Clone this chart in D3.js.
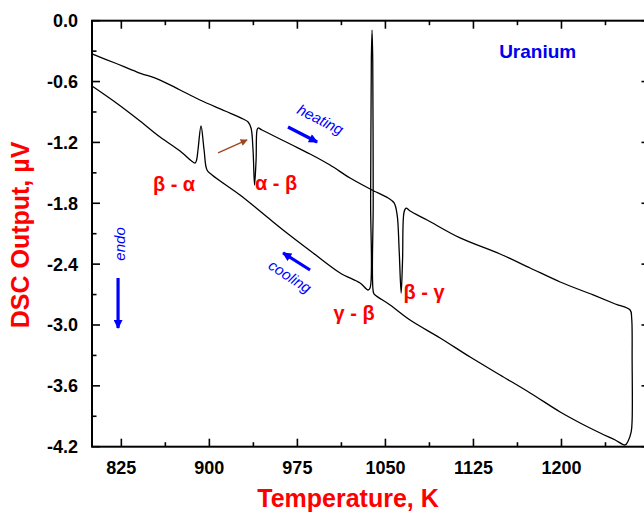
<!DOCTYPE html>
<html><head><meta charset="utf-8">
<script src="https://cdn.jsdelivr.net/npm/d3@7"></script>
<style>body{margin:0;background:#fff}svg{display:block}</style>
</head><body>
<svg id="c" width="644" height="518"></svg>
<script>
// Heating run (K, µV)
const heatT = [800.0,819.6,838.4,858.0,875.0,892.0,913.4,928.7,933.0,935.5,937.2,938.5,939.8,940.6,941.5,944.9,968.8,985.8,1002.8,1019.9,1038.6,1052.3,1057.4,1060.0,1061.7,1063.4,1064.6,1065.9,1067.6,1071.0,1085.5,1113.6,1147.7,1173.3,1198.9,1227.0,1245.8,1258.5,1259.8,1260.2,1260.2,1259.4,1256.8,1254.3];
const heatV = [-0.328,-0.417,-0.506,-0.585,-0.683,-0.782,-0.890,-0.969,-0.999,-1.058,-1.275,-1.620,-1.373,-1.078,-1.058,-1.078,-1.216,-1.314,-1.423,-1.551,-1.669,-1.748,-1.797,-1.916,-2.261,-2.685,-2.359,-1.886,-1.847,-1.876,-1.965,-2.142,-2.300,-2.438,-2.576,-2.704,-2.793,-2.852,-2.931,-3.345,-3.937,-4.055,-4.144,-4.183];
// Cooling run (K, µV)
const coolT = [1254.3,1245.8,1233.0,1215.9,1198.9,1173.3,1147.7,1122.2,1096.6,1071.0,1054.0,1041.2,1039.9,1039.6,1039.2,1038.6,1038.0,1037.4,1036.9,1035.2,1028.4,1011.4,988.4,962.8,949.2,938.9,926.1,902.3,898.0,895.5,892.9,890.3,889.1,887.8,875.0,858.0,840.9,819.6,800.0];
const coolV = [-4.183,-4.134,-4.065,-3.966,-3.858,-3.670,-3.493,-3.316,-3.128,-2.951,-2.803,-2.704,-2.685,-1.768,-0.387,-0.092,-0.387,-1.768,-2.635,-2.655,-2.586,-2.487,-2.290,-2.063,-1.935,-1.837,-1.718,-1.521,-1.472,-1.275,-1.038,-1.275,-1.373,-1.403,-1.285,-1.147,-0.989,-0.802,-0.644];
const xTicks = [825,900,975,1050,1125,1200,1275];
const yTicks = [0.0,-0.6,-1.2,-1.8,-2.4,-3.0,-3.6,-4.2];
const transitionLabels = ["β - α","α - β","γ - β","β - γ"];
const transitionT = [869.9,956.8,1023.3,1083.0];
const transitionV = [-1.610,-1.600,-2.882,-2.675];

const svg = d3.select("#c");
const L=92, R=649.5, T=20.7, B=446.7;
const x = d3.scaleLinear().domain([800,1275]).range([L,R]);
const y = d3.scaleLinear().domain([-4.2,0]).range([B,T]);
const font = "'Liberation Sans', Arial, sans-serif";

// markers
const defs = svg.append("defs");
function mk(id,color,w,h){
  defs.append("marker").attr("id",id).attr("viewBox","0 0 10 10").attr("refX",9).attr("refY",5)
   .attr("markerUnits","userSpaceOnUse").attr("markerWidth",w).attr("markerHeight",h).attr("orient","auto")
   .append("path").attr("d","M0,0L10,5L0,10z").attr("fill",color);
}
mk("ab","#0000ff",11,9); mk("ar","#a0461e",8,7);

// minor ticks
const minorX = d3.range(862.5,1275,75);
const minorY = d3.range(-0.3,-4.2,-0.6);
const ax = svg.append("g").attr("stroke","#000").attr("stroke-width",1.6);
xTicks.forEach(v=>{ax.append("line").attr("x1",x(v)).attr("x2",x(v)).attr("y1",B).attr("y2",B-8);
  ax.append("line").attr("x1",x(v)).attr("x2",x(v)).attr("y1",T).attr("y2",T+8);});
minorX.forEach(v=>{ax.append("line").attr("x1",x(v)).attr("x2",x(v)).attr("y1",B).attr("y2",B-4.5);
  ax.append("line").attr("x1",x(v)).attr("x2",x(v)).attr("y1",T).attr("y2",T+4.5);});
yTicks.forEach(v=>{ax.append("line").attr("x1",L).attr("x2",L+8).attr("y1",y(v)).attr("y2",y(v));
  ax.append("line").attr("x1",R).attr("x2",R-8).attr("y1",y(v)).attr("y2",y(v));});
minorY.forEach(v=>{ax.append("line").attr("x1",L).attr("x2",L+4.5).attr("y1",y(v)).attr("y2",y(v));
  ax.append("line").attr("x1",R).attr("x2",R-4.5).attr("y1",y(v)).attr("y2",y(v));});
svg.append("rect").attr("x",L).attr("y",T).attr("width",R-L).attr("height",B-T)
  .attr("fill","none").attr("stroke","#000").attr("stroke-width",2);

// tick labels
svg.append("g").selectAll("text").data(xTicks.filter(v=>v<1260)).join("text")
  .attr("x",d=>x(d)).attr("y",474).attr("text-anchor","middle")
  .attr("font-family",font).attr("font-weight","bold").attr("font-size",18).text(d=>d);
svg.append("g").selectAll("text").data(yTicks).join("text")
  .attr("x",78).attr("y",d=>y(d)+6.5).attr("text-anchor","end")
  .attr("font-family",font).attr("font-weight","bold").attr("font-size",18).text(d=>d.toFixed(1));

// axis titles
svg.append("text").attr("x",348).attr("y",507).attr("text-anchor","middle").attr("fill","#ff0000")
  .attr("font-family",font).attr("font-weight","bold").attr("font-size",25).text("Temperature, K");
svg.append("text").attr("transform","translate(29,235) rotate(-90)").attr("text-anchor","middle").attr("fill","#ff0000")
  .attr("font-family",font).attr("font-weight","bold").attr("font-size",25).text("DSC Output, µV");

// curves
const line = d3.line().x(d=>x(d[0])).y(d=>y(d[1])).curve(d3.curveCatmullRom.alpha(0.5));
const heat = heatT.map((t,i)=>[t,heatV[i]]);
const cool = coolT.map((t,i)=>[t,coolV[i]]);
svg.append("path").attr("d",line(heat.concat(cool.slice(1)))).attr("fill","none").attr("stroke","#000")
  .attr("stroke-width",1.3).attr("stroke-linejoin","round");

// transition labels
svg.append("g").selectAll("text").data(transitionLabels).join("text")
  .attr("x",(d,i)=>x(transitionT[i])).attr("y",(d,i)=>y(transitionV[i])+7).attr("text-anchor","middle")
  .attr("fill","#ff0000").attr("font-family",font).attr("font-weight","bold").attr("font-size",20)
  .attr("xml:space","preserve").text(d=>d);

// annotations
svg.append("text").attr("x",x(1146.9)).attr("y",y(-0.368)).attr("fill","#0000ee")
  .attr("font-family",font).attr("font-weight","bold").attr("font-size",19).text("Uranium");
const ann = svg.append("g").attr("fill","#0000ff").attr("font-family",font).attr("font-style","italic").attr("font-size",15);
ann.append("text").attr("transform",`translate(${x(992.6)},${y(-1.019)}) rotate(27)`).attr("text-anchor","middle").text("heating");
ann.append("text").attr("transform",`translate(${x(966.2)},${y(-2.566)}) rotate(33)`).attr("text-anchor","middle").text("cooling");
ann.append("text").attr("transform",`translate(${x(823.9)+5},${y(-2.201)}) rotate(-90)`).attr("text-anchor","middle").text("endo");
const arr = svg.append("g").attr("stroke","#0000ff").attr("stroke-width",3.2);
arr.append("line").attr("x1",x(967.0)).attr("y1",y(-1.048)).attr("x2",x(991.8)).attr("y2",y(-1.196)).attr("marker-end","url(#ab)");
arr.append("line").attr("x1",x(985.8)).attr("y1",y(-2.458)).attr("x2",x(962.8)).attr("y2",y(-2.290)).attr("marker-end","url(#ab)");
arr.append("line").attr("x1",x(822.2)).attr("y1",y(-2.537)).attr("x2",x(822.2)).attr("y2",y(-3.030)).attr("marker-end","url(#ab)");
svg.append("line").attr("x1",x(907.4)).attr("y1",y(-1.304)).attr("x2",x(932.1)).attr("y2",y(-1.176))
  .attr("stroke","#a0461e").attr("stroke-width",1.4).attr("marker-end","url(#ar)");
</script>
</body></html>
